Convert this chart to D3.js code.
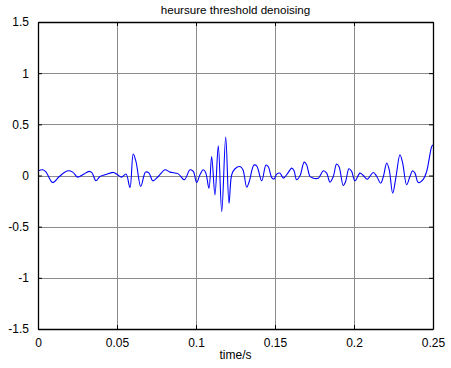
<!DOCTYPE html>
<html><head><meta charset="utf-8">
<script src="https://cdnjs.cloudflare.com/ajax/libs/d3/7.8.5/d3.min.js"></script>
<style>body{margin:0;background:#fff}svg{display:block}</style>
</head><body>
<script>
const titleText = "heursure threshold denoising";
const xLabel = "time/s";
const xTicks = [0, 0.05, 0.1, 0.15, 0.2, 0.25];
const xTickLabels = ["0", "0.05", "0.1", "0.15", "0.2", "0.25"];
const yTicks = [-1.5, -1, -0.5, 0, 0.5, 1, 1.5];
const yTickLabels = ["-1.5", "-1", "-0.5", "0", "0.5", "1", "1.5"];
const time = [0.000,0.003,0.005,0.0093,0.0135,0.0188,0.022,0.0251,0.0283,0.0325,0.0342,0.0367,0.0392,0.0424,0.0477,0.0498,0.053,0.0557,0.0582,0.0603,0.062,0.065,0.0671,0.068,0.0703,0.0726,0.0761,0.0804,0.0835,0.0888,0.0926,0.0962,0.0983,0.1004,0.1025,0.1046,0.1061,0.1082,0.1099,0.112,0.1141,0.1163,0.1188,0.1209,0.1226,0.1247,0.1278,0.1297,0.1321,0.1337,0.1367,0.1384,0.1416,0.1443,0.1458,0.1479,0.1494,0.1511,0.1532,0.1553,0.1578,0.1606,0.162,0.1637,0.1658,0.1685,0.17,0.1722,0.1742,0.1774,0.1806,0.1827,0.1848,0.1869,0.189,0.1905,0.1932,0.1947,0.1968,0.1985,0.2006,0.2038,0.2059,0.2084,0.2122,0.2144,0.2169,0.2186,0.2207,0.2223,0.2245,0.2266,0.2291,0.2308,0.2333,0.2354,0.2371,0.2386,0.2407,0.2439,0.246,0.2492,0.25];
const amplitude = [0.045,0.056,0.036,-0.069,-0.01,0.046,0.033,-0.016,0.007,0.04,0.026,-0.052,-0.01,0.007,0.03,0.014,-0.016,0.014,-0.118,0.21,0.137,-0.108,0,0.033,0.023,-0.052,-0.01,0.056,0.033,0.016,-0.042,0.056,0.04,-0.069,0.007,0.056,0.03,-0.124,0.186,-0.189,0.291,-0.353,0.376,-0.271,0.007,0.066,0.088,0.056,-0.114,-0.059,0.102,0.095,-0.052,0.102,0.085,-0.02,-0.035,0.014,0.023,-0.026,0.016,0.072,0.049,-0.042,-0.003,0.131,0.105,-0.01,-0.026,-0.026,0.046,0.023,-0.065,-0.01,0.112,0.088,-0.098,-0.059,0.066,0.04,-0.052,0.023,0,-0.035,0.03,-0.01,-0.075,-0.01,0.122,0.056,-0.173,-0.01,0.203,0.122,-0.091,-0.01,0.046,0.023,-0.069,-0.035,0.04,0.284,0.30];

const W = 451, H = 368;
const L = 38, R = 433, T = 22, B = 329;
const svg = d3.select("body").append("svg").attr("width", W).attr("height", H);
svg.append("rect").attr("width", W).attr("height", H).attr("fill", "#fff");

const x = d3.scaleLinear().domain([0, 0.25]).range([L, R]);
const y = d3.scaleLinear().domain([-1.5, 1.5]).range([B, T]);
const font = "'Liberation Sans', Arial, Helvetica, sans-serif";

// grid
const g = svg.append("g");
g.selectAll(".vg").data(xTicks.slice(1, -1)).enter().append("line")
  .attr("x1", d => Math.round(x(d)) + 0.5).attr("x2", d => Math.round(x(d)) + 0.5)
  .attr("y1", T).attr("y2", B).attr("stroke", "#8c8c8c").attr("stroke-width", 1);
g.selectAll(".hg").data(yTicks.slice(1, -1)).enter().append("line")
  .attr("y1", d => Math.round(y(d)) + 0.5).attr("y2", d => Math.round(y(d)) + 0.5)
  .attr("x1", L).attr("x2", R).attr("stroke", "#8c8c8c").attr("stroke-width", 1);

// signal
const pts = time.map((t, i) => [t, amplitude[i]]);
svg.append("path").datum(pts)
  .attr("d", d3.line().x(d => x(d[0])).y(d => y(d[1])).curve(d3.curveCatmullRom.alpha(0.5)))
  .attr("fill", "none").attr("stroke", "#0000ff").attr("stroke-width", 1.1);

// axes (ticks inward on all sides)
const axB = d3.axisBottom(x).tickValues(xTicks).tickFormat((d, i) => xTickLabels[i]).tickSizeInner(-4).tickSizeOuter(0).tickPadding(9);
const axT = d3.axisTop(x).tickValues(xTicks).tickFormat("").tickSizeInner(-4).tickSizeOuter(0);
const axL = d3.axisLeft(y).tickValues(yTicks).tickFormat((d, i) => yTickLabels[i]).tickSizeInner(-4).tickSizeOuter(0).tickPadding(9);
const axR = d3.axisRight(y).tickValues(yTicks).tickFormat("").tickSizeInner(-4).tickSizeOuter(0);
function style(sel) {
  sel.selectAll("path").attr("stroke", "#000").attr("stroke-width", 1.3);
  sel.selectAll("line").attr("stroke", "#000");
  sel.selectAll("text").attr("fill", "#000").style("font-family", font).style("font-size", "12px");
}
svg.append("g").attr("transform", `translate(0,${B})`).call(axB).call(style);
svg.append("g").attr("transform", `translate(0,${T})`).call(axT).call(style);
svg.append("g").attr("transform", `translate(${L},0)`).call(axL).call(style);
svg.append("g").attr("transform", `translate(${R},0)`).call(axR).call(style);

svg.append("text").attr("x", (L + R) / 2).attr("y", 14).attr("text-anchor", "middle")
  .style("font-family", font).style("font-size", "11.6px").text(titleText);
svg.append("text").attr("x", (L + R) / 2).attr("y", 359).attr("text-anchor", "middle")
  .style("font-family", font).style("font-size", "12px").text(xLabel);
</script>
</body></html>
